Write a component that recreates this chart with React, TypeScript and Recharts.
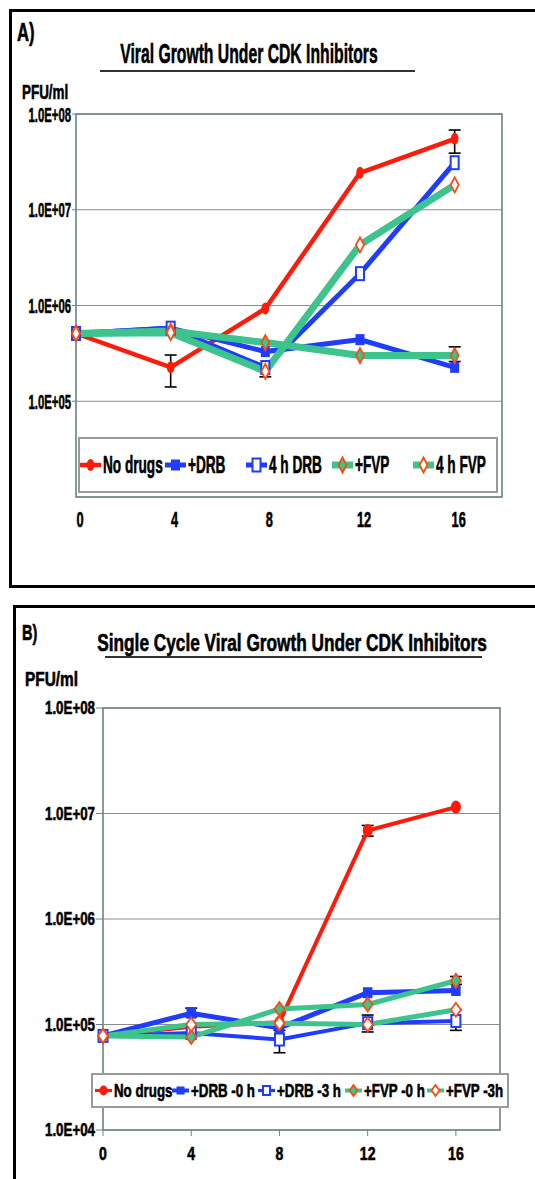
import React from "react";
import { LineChart, Line, XAxis, YAxis, CartesianGrid, ErrorBar, ReferenceArea, Legend } from "recharts";

const FONT = '"Liberation Sans", Arial, sans-serif';

const hours = [0, 4, 8, 12, 16];
const xTicks = [0, 4, 8, 12, 16];
const yTicksA = [1e5, 1e6, 1e7, 1e8];
const yTicksB = [1e4, 1e5, 1e6, 1e7, 1e8];

// panel A - viral growth
const namesA = ["No drugs", "+DRB", "4 h DRB", "+FVP", "4 h FVP"];
const noDrugsA = [5.1e5, 2.26e5, 9.3e5, 2.43e7, 5.5e7];
const drbA = [5.1e5, 5.8e5, 3.3e5, 4.4e5, 2.26e5];
const drb4hA = [5.1e5, 5.8e5, 2.25e5, 2.15e6, 3.1e7];
const fvpA = [5.1e5, 5.4e5, 4.1e5, 3.0e5, 3.0e5];
const fvp4hA = [5.1e5, 5.2e5, 2.05e5, 4.3e6, 1.82e7];
const errNoDrugsA = [null, [0.85e5, 0.78e5], null, null, [1.6e7, 1.3e7]];
const errFvpA = [null, null, null, null, [0.4e5, 0.7e5]];
const errFvp4hA = [null, null, [0.25e5, 0.2e5], null, null];

// panel B - single cycle
const namesB = ["No drugs", "+DRB -0 h", "+DRB -3 h", "+FVP -0 h", "+FVP -3h"];
const noDrugsB = [7.8e4, 9.5e4, 1.05e5, 6.9e6, 1.15e7];
const drb0B = [7.8e4, 1.28e5, 9.3e4, 2.0e5, 2.1e5];
const drb3B = [7.8e4, 8.3e4, 7.2e4, 1.03e5, 1.08e5];
const fvp0B = [7.8e4, 7.6e4, 1.4e5, 1.55e5, 2.6e5];
const fvp3B = [7.8e4, 1.0e5, 1.03e5, 1.0e5, 1.38e5];
const errNoDrugsB = [null, null, null, [0.8e6, 0.8e6], null];
const errDrb0B = [null, [0.1e5, 0.15e5], null, null, null];
const errDrb3B = [null, null, [1.8e4, 1.6e4], [0.18e5, 0.2e5], [0.2e5, 0.3e5]];
const errFvp0B = [null, null, null, null, [0.2e5, 0.25e5]];

const RED = "#ff1a0a";
const BLUE = "#1f3cff";
const GREEN = "#3cc48c";
const ORANGE = "#ff4a10";

type Kind = "circle" | "square" | "openSquare" | "diamond" | "openDiamond";
type Size = { cr: number[]; sq: number[]; osq: number[]; dia: number[] };

const sizeA: Size = { cr: [3.8, 6], sq: [9, 11], osq: [8, 13], dia: [4, 7.5] };
const sizeB: Size = { cr: [5, 6.5], sq: [9.5, 11], osq: [9, 12], dia: [5, 7] };
const sizeLegB: Size = { cr: [4, 5], sq: [8, 8], osq: [7, 9], dia: [4, 5.5] };

const styleA = [
  { color: RED, width: 4.5, kind: "circle" as Kind },
  { color: BLUE, width: 5, kind: "square" as Kind },
  { color: BLUE, width: 5, kind: "openSquare" as Kind },
  { color: GREEN, width: 7, kind: "diamond" as Kind },
  { color: GREEN, width: 7, kind: "openDiamond" as Kind },
];
const styleB = [
  { color: RED, width: 4, kind: "circle" as Kind },
  { color: BLUE, width: 5, kind: "square" as Kind },
  { color: BLUE, width: 4, kind: "openSquare" as Kind },
  { color: GREEN, width: 5, kind: "diamond" as Kind },
  { color: GREEN, width: 5, kind: "openDiamond" as Kind },
];

const Marker = ({ cx, cy, kind, z }: { cx: number; cy: number; kind: Kind; z: Size }) => {
  if (cx == null || cy == null) return null;
  if (kind === "circle") return <ellipse cx={cx} cy={cy} rx={z.cr[0]} ry={z.cr[1]} fill={RED} />;
  if (kind === "square")
    return <rect x={cx - z.sq[0] / 2} y={cy - z.sq[1] / 2} width={z.sq[0]} height={z.sq[1]} fill={BLUE} />;
  if (kind === "openSquare")
    return (
      <rect x={cx - z.osq[0] / 2} y={cy - z.osq[1] / 2} width={z.osq[0]} height={z.osq[1]} fill="#fff" stroke={BLUE} strokeWidth={2} />
    );
  const [w, h] = z.dia;
  const pts = `${cx},${cy - h} ${cx + w},${cy} ${cx},${cy + h} ${cx - w},${cy}`;
  return <polygon points={pts} fill={kind === "diamond" ? GREEN : "#fff"} stroke={ORANGE} strokeWidth={1.8} />;
};

const dotFor = (kind: Kind, z: Size, tag: string) => (p: any) => (
  <Marker key={`${tag}-${p.index}`} cx={p.cx} cy={p.cy} kind={kind} z={z} />
);

const fmtE = (v: number) => `1.0E+${String(Math.round(Math.log10(v))).padStart(2, "0")}`;

const buildRows = (series: number[][], errs: any[]) =>
  hours.map((h, i) => {
    const row: any = { h };
    series.forEach((arr, k) => {
      row[`s${k}`] = arr[i];
      if (errs[k] && errs[k][i]) row[`e${k}`] = errs[k][i];
    });
    return row;
  });

const rowsA = buildRows([noDrugsA, drbA, drb4hA, fvpA, fvp4hA], [errNoDrugsA, null, null, errFvpA, errFvp4hA]);
const rowsB = buildRows([noDrugsB, drb0B, drb3B, fvp0B, fvp3B], [errNoDrugsB, errDrb0B, errDrb3B, errFvp0B, null]);

// squeezed bold text (the source figure is horizontally compressed)
const SqText = ({ x, y, size, k, anchor = "start", dy, children }: any) => (
  <text
    transform={`translate(${x},${y}) scale(${k},1)`}
    textAnchor={anchor}
    dy={dy}
    fontSize={size}
    fontWeight={700}
    fontFamily={FONT}
    fill="#000"
    stroke="#000"
    strokeWidth={0.6}
  >
    {children}
  </text>
);

const tickFn = (size: number, k: number, anchor: string, dy: string, fmt: (v: number) => string, dx = 0) => (p: any) => (
  <SqText x={p.x + dx} y={p.y} size={size} k={k} anchor={anchor} dy={dy}>
    {fmt(p.payload.value)}
  </SqText>
);

const makeLegend = (
  styles: typeof styleA,
  z: Size,
  w: number,
  h: number,
  itemX: number[],
  iconW: number,
  lineScale: number,
  fontSize: number,
  k: number
) => (props: any) => {
  const items = [...(props.payload || [])].sort((a: any, b: any) => String(a.dataKey).localeCompare(String(b.dataKey)));
  return (
    <svg width={w} height={h} style={{ display: "block" }}>
      <rect x={1} y={1} width={w - 2} height={h - 2} fill="#fff" stroke="#9a9a9a" strokeWidth={2} />
      {items.map((p: any, i: number) => {
        const idx = Number(String(p.dataKey).slice(1));
        const st = styles[idx];
        const x0 = itemX[i];
        const cy = h / 2;
        return (
          <g key={i}>
            <line x1={x0} x2={x0 + iconW} y1={cy} y2={cy} stroke={st.color} strokeWidth={st.width * lineScale} />
            <Marker cx={x0 + iconW / 2} cy={cy} kind={st.kind} z={z} />
            <SqText x={x0 + iconW + 2} y={cy} size={fontSize} k={k} dy="0.36em">
              {p.value}
            </SqText>
          </g>
        );
      })}
    </svg>
  );
};

const KA = 0.58;
const KB = 0.74;

const legendXA = [2, 87, 168, 254, 335];
const legendXB = [4, 81, 167, 254, 336];

const PanelA = () => (
  <div style={{ position: "absolute", left: 0, top: 0 }}>
    <LineChart width={535} height={540} data={rowsA} margin={{ top: 114, right: 33, left: 6, bottom: 13 }}>
      <CartesianGrid vertical={false} stroke="#8c8c8c" strokeWidth={1} />
      <XAxis
        dataKey="h"
        type="number"
        domain={[0, 18]}
        ticks={xTicks}
        axisLine={false}
        tickLine={false}
        tickMargin={8}
        height={30}
        tick={tickFn(22, KA, "middle", "0.71em", (v) => String(v), 4)}
      />
      <YAxis
        scale="log"
        type="number"
        domain={[1e4, 1e8]}
        ticks={yTicksA}
        allowDataOverflow
        width={70}
        axisLine={false}
        tickSize={4}
        tickMargin={1}
        tickLine={{ stroke: "#6e8282" }}
        tick={tickFn(21, 0.54, "end", "0.36em", fmtE)}
      />
      <ReferenceArea x1={0} x2={18} y1={1e4} y2={1e8} fill="none" stroke="#6e8282" strokeWidth={1.6} ifOverflow="visible" />
      <Legend
        layout="horizontal"
        verticalAlign="middle"
        align="center"
        itemSorter="dataKey"
        wrapperStyle={{ left: 78, top: 437, width: 420, height: 56 }}
        content={makeLegend(styleA, sizeA, 420, 56, legendXA, 21, 1, 23.5, KA)}
      />
      {styleA.map((st, k) => (
        <Line
          key={k}
          dataKey={`s${k}`}
          name={namesA[k]}
          stroke={st.color}
          strokeWidth={st.width}
          dot={dotFor(st.kind, sizeA, `a${k}`)}
          activeDot={false}
          isAnimationActive={false}
        >
          {rowsA.some((r: any) => r[`e${k}`]) ? (
            <ErrorBar dataKey={`e${k}`} direction="y" width={6} stroke="#000" strokeWidth={1.6} isAnimationActive={false} />
          ) : null}
        </Line>
      ))}
    </LineChart>
  </div>
);

const PanelB = () => (
  <div style={{ position: "absolute", left: 0, top: 600 }}>
    <LineChart width={535} height={579} data={rowsB} margin={{ top: 108, right: 35, left: 13, bottom: 19 }}>
      <CartesianGrid vertical={false} stroke="#8c8c8c" strokeWidth={1} />
      <XAxis
        dataKey="h"
        type="number"
        domain={[0, 18]}
        ticks={xTicks}
        axisLine={false}
        tickSize={6}
        tickLine={{ stroke: "#6e8282" }}
        tickMargin={11}
        height={30}
        tick={tickFn(19, KB, "middle", "0.71em", (v) => String(v))}
      />
      <YAxis
        scale="log"
        type="number"
        domain={[1e4, 1e8]}
        ticks={yTicksB}
        allowDataOverflow
        width={90}
        axisLine={false}
        tickSize={7}
        tickMargin={1}
        tickLine={{ stroke: "#6e8282" }}
        tick={tickFn(18, KB, "end", "0.36em", fmtE)}
      />
      <ReferenceArea x1={0} x2={18} y1={1e4} y2={1e8} fill="none" stroke="#6e8282" strokeWidth={1.6} ifOverflow="visible" />
      <Legend
        layout="horizontal"
        verticalAlign="middle"
        align="center"
        itemSorter="dataKey"
        wrapperStyle={{ left: 91, top: 473, width: 418, height: 35 }}
        content={makeLegend(styleB, sizeLegB, 418, 35, legendXB, 17, 0.8, 18, KB)}
      />
      {styleB.map((st, k) => (
        <Line
          key={k}
          dataKey={`s${k}`}
          name={namesB[k]}
          stroke={st.color}
          strokeWidth={st.width}
          dot={dotFor(st.kind, sizeB, `b${k}`)}
          activeDot={false}
          isAnimationActive={false}
        >
          {rowsB.some((r: any) => r[`e${k}`]) ? (
            <ErrorBar dataKey={`e${k}`} direction="y" width={6} stroke="#000" strokeWidth={1.6} isAnimationActive={false} />
          ) : null}
        </Line>
      ))}
    </LineChart>
  </div>
);

const Frame = () => (
  <svg width={535} height={1179} style={{ position: "absolute", left: 0, top: 0 }}>
    {/* panel frames */}
    <path d="M540,10.5 H10.5 V586.5 H540" fill="none" stroke="#000" strokeWidth={3} />
    <path d="M540,606.5 H14.5 V1190" fill="none" stroke="#000" strokeWidth={3} />
    <SqText x={17} y={41} size={26} k={0.64}>A)</SqText>
    <SqText x={249} y={63} size={27} k={0.583} anchor="middle">Viral Growth Under CDK Inhibitors</SqText>
    <line x1={100} x2={415} y1={71} y2={71} stroke="#333" strokeWidth={2} />
    <SqText x={22} y={99} size={21} k={0.64}>PFU/ml</SqText>
    <SqText x={22} y={640} size={22} k={0.66}>B)</SqText>
    <SqText x={292} y={651} size={23} k={0.75} anchor="middle">Single Cycle Viral Growth Under CDK Inhibitors</SqText>
    <line x1={105} x2={482} y1={657} y2={657} stroke="#333" strokeWidth={2} />
    <SqText x={25} y={686} size={20} k={0.77}>PFU/ml</SqText>
  </svg>
);

export default function App() {
  return (
    <div
      style={{
        position: "absolute",
        left: 0,
        top: 0,
        width: 535,
        height: 1179,
        overflow: "hidden",
        background: "#fff",
      }}
    >
      <Frame />
      <PanelA />
      <PanelB />
    </div>
  );
}
